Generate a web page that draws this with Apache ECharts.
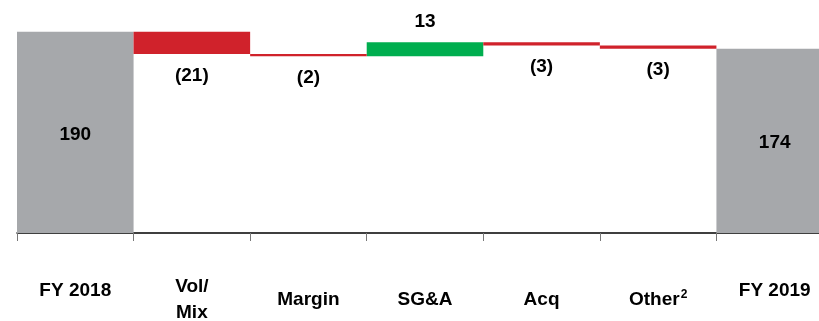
<!DOCTYPE html>
<html>
<head>
<meta charset="utf-8">
<script src="https://cdn.jsdelivr.net/npm/echarts@6/dist/echarts.min.js"></script>
<style>
  html, body { margin: 0; padding: 0; background: #ffffff; }
  #chart { width: 819px; height: 321px; }
</style>
</head>
<body>
<div id="chart"></div>
<script>
// Bridge categories, the opening/closing totals and the step changes between them
const categories = ['FY 2018', 'Vol/\nMix', 'Margin', 'SG&A', 'Acq', 'Other^2', 'FY 2019'];
const totals = [190, null, null, null, null, null, 174];
const changes = [null, -21, -2, 13, -3, -3, null];

const GREY = '#A6A8AB';
const RED = '#D0222B';
const GREEN = '#00AE4F';
const FONT = '"Liberation Sans", Arial, sans-serif';
const FS = 19;

// Running level for the floating bars
const baseData = [], upData = [], downData = [], totalData = [];
let level = 0;
categories.forEach((c, i) => {
  if (totals[i] !== null) {
    level = totals[i];
    totalData.push(totals[i]);
    baseData.push('-'); upData.push('-'); downData.push('-');
  } else {
    const d = changes[i];
    const next = level + d;
    baseData.push(Math.min(level, next));
    totalData.push('-');
    if (d >= 0) { upData.push(d); downData.push('-'); }
    else { downData.push(-d); upData.push('-'); }
    level = next;
  }
});

const labelBase = { fontFamily: FONT, fontSize: FS, fontWeight: 'bold', color: '#000' };
const txt = { fontFamily: FONT, fontSize: FS, fontWeight: 'bold', color: '#000', lineHeight: 26 };

const chart = echarts.init(document.getElementById('chart'), null, { renderer: 'canvas' });
chart.setOption({
  animation: false,
  backgroundColor: '#ffffff',
  grid: { left: 17, top: 0, bottom: 88, width: 816, containLabel: false, outerBoundsMode: 'none' },
  xAxis: {
    type: 'category',
    data: categories,
    axisLine: { show: true, lineStyle: { color: '#000', width: 1.5 } },
    axisTick: { show: true, alignWithLabel: false, length: 8, lineStyle: { color: '#777', width: 1 } },
    axisLabel: {
      interval: 0,
      margin: 67,
      verticalAlign: 'middle',
      fontFamily: FONT,
      fontSize: FS,
      fontWeight: 'bold',
      color: '#000',
      formatter: function (v) {
        if (v.indexOf('FY') === 0) return '{fy|' + v + '}\n{gap| }';
        if (v.indexOf('^') > 0) {
          const parts = v.split('^');
          return '{b|' + parts[0] + '}{sup|' + parts[1] + '}';
        }
        return v.split('\n').map(s => '{b|' + s + '}').join('\n');
      },
      rich: {
        b: txt,
        fy: txt,
        sup: { fontFamily: FONT, fontSize: 12, fontWeight: 'bold', color: '#000', lineHeight: 12, padding: [0, 0, 10, 1] },
        gap: { fontSize: 10, lineHeight: 18 }
      }
    },
    splitLine: { show: false }
  },
  yAxis: {
    type: 'value',
    min: 0,
    max: 220,
    show: false,
    splitLine: { show: false }
  },
  series: [
    {
      name: 'base', type: 'bar', stack: 'w', data: baseData,
      barCategoryGap: 0,
      itemStyle: { color: 'transparent' }, silent: true
    },
    {
      name: 'total', type: 'bar', stack: 'w', data: totalData,
      barCategoryGap: 0,
      itemStyle: { color: GREY },
      label: Object.assign({ show: true, position: 'inside', offset: [0, 2] }, labelBase)
    },
    {
      name: 'up', type: 'bar', stack: 'w', data: upData,
      barCategoryGap: 0,
      itemStyle: { color: GREEN },
      label: Object.assign({ show: true, position: 'top', distance: 11 }, labelBase)
    },
    {
      name: 'down', type: 'bar', stack: 'w', data: downData,
      barCategoryGap: 0,
      itemStyle: { color: RED },
      label: Object.assign({
        show: true, position: 'bottom', distance: 12,
        formatter: p => '(' + p.value + ')'
      }, labelBase)
    }
  ]
});
</script>
</body>
</html>
